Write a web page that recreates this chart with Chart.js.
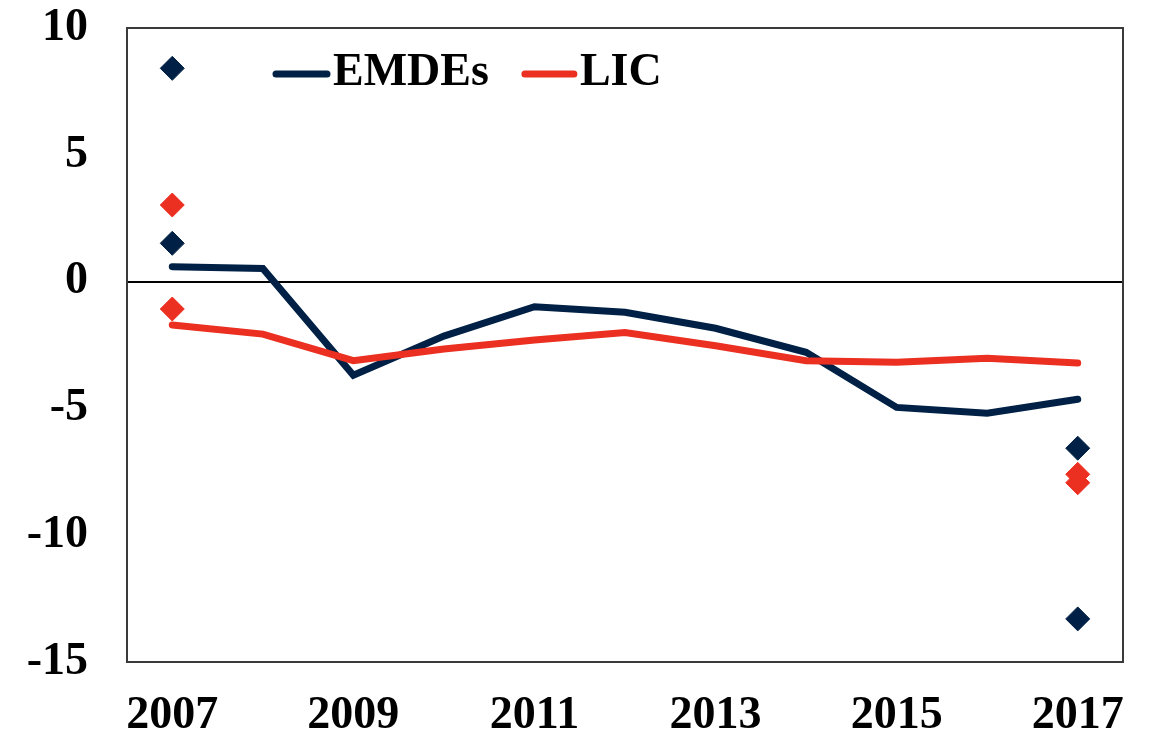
<!DOCTYPE html>
<html>
<head>
<meta charset="utf-8">
<script src="https://cdn.jsdelivr.net/npm/chart.js@4.4.1/dist/chart.umd.min.js"></script>
<style>
  html, body { margin: 0; padding: 0; background: #fff; }
  #wrap { width: 1150px; height: 738px; }
</style>
</head>
<body>
<div id="wrap"><canvas id="chart" width="1150" height="738"></canvas></div>
<script>
// --- data ------------------------------------------------------------------
var years = ["2007", "2008", "2009", "2010", "2011", "2012", "2013", "2014", "2015", "2016", "2017"];
var emdes = [0.59, 0.52, -3.69, -2.15, -0.99, -1.21, -1.84, -2.79, -4.96, -5.19, -4.64];
var lic   = [-1.71, -2.07, -3.12, -2.66, -2.30, -2.01, -2.53, -3.12, -3.18, -3.02, -3.21];
// range markers, only at the ends
var emdesHigh = [8.41, null, null, null, null, null, null, null, null, null, -6.57];
var emdesLow  = [1.51, null, null, null, null, null, null, null, null, null, -13.30];
var licHigh   = [3.02, null, null, null, null, null, null, null, null, null, -7.60];
var licLow    = [-1.08, null, null, null, null, null, null, null, null, null, -7.93];
var yMin = -15, yMax = 10, yStep = 5;

var NAVY = "#002145";
var RED = "#EB2F21";
var FONT = '"Liberation Serif", "Times New Roman", serif';

function diamonds(values, color) {
  return {
    type: "line",
    data: values,
    showLine: false,
    pointStyle: "rectRot",
    pointRadius: 12,
    pointHoverRadius: 12,
    pointBackgroundColor: color,
    pointBorderColor: color,
    pointBorderWidth: 1,
  };
}

function line(values, color) {
  return {
    type: "line",
    data: values,
    borderColor: color,
    borderWidth: 7,
    borderCapStyle: "round",
    borderJoinStyle: "miter",
    pointRadius: 0,
    tension: 0,
    fill: false,
  };
}

// plot frame, drawn under the series
var framePlugin = {
  id: "frame",
  beforeDatasetsDraw: function (chart) {
    var a = chart.chartArea, ctx = chart.ctx;
    ctx.save();
    ctx.strokeStyle = "#3a3a3a";
    ctx.lineWidth = 2;
    ctx.strokeRect(a.left, a.top, a.right - a.left, a.bottom - a.top);
    ctx.restore();
  },
};

// in-plot legend: line swatch + bold label
var legendPlugin = {
  id: "inlineLegend",
  afterDraw: function (chart) {
    var a = chart.chartArea, ctx = chart.ctx;
    var items = [{ text: "EMDEs", color: NAVY, len: 57 }, { text: "LIC", color: RED, len: 55 }];
    var x = a.left + 146, y = a.top + 45;
    ctx.save();
    ctx.font = "bold 46px " + FONT;
    ctx.textBaseline = "middle";
    ctx.lineCap = "round";
    ctx.lineWidth = 7;
    items.forEach(function (it) {
      ctx.strokeStyle = it.color;
      ctx.beginPath();
      ctx.moveTo(x + 3, y + 1);
      ctx.lineTo(x + it.len - 3, y + 1);
      ctx.stroke();
      x += it.len + 3;
      ctx.fillStyle = "#000";
      ctx.fillText(it.text, x, y);
      x += ctx.measureText(it.text).width + 33;
    });
    ctx.restore();
  },
};

new Chart(document.getElementById("chart").getContext("2d"), {
  data: {
    labels: years,
    datasets: [
      diamonds(emdesHigh, NAVY),
      diamonds(emdesLow, NAVY),
      diamonds(licHigh, RED),
      diamonds(licLow, RED),
      line(lic, RED),
      line(emdes, NAVY),
    ],
  },
  options: {
    responsive: false,
    devicePixelRatio: 1,
    animation: false,
    layout: { padding: { top: 28, right: 27, left: 0, bottom: 0 } },
    plugins: { legend: { display: false }, tooltip: { enabled: false } },
    scales: {
      x: {
        offset: true,
        grid: { display: false, drawTicks: false },
        border: { display: false },
        afterFit: function (s) { s.height = 76; s.paddingLeft = 0; s.paddingRight = 0; },
        ticks: {
          autoSkip: false,
          maxRotation: 0,
          padding: 27,
          color: "#000",
          font: { family: FONT, size: 46, weight: "bold" },
          callback: function (v, i) { return i % 2 === 0 ? this.getLabelForValue(v) : ""; },
        },
      },
      y: {
        min: yMin,
        max: yMax,
        afterFit: function (s) { s.width = 127; s.paddingTop = 0; s.paddingBottom = 0; },
        grid: {
          drawTicks: false,
          lineWidth: 2,
          color: function (c) { return c.tick && c.tick.value === 0 ? "#000" : "rgba(0,0,0,0)"; },
        },
        border: { display: false },
        ticks: {
          stepSize: yStep,
          padding: 39,
          color: "#000",
          font: { family: FONT, size: 46, weight: "bold" },
        },
      },
    },
  },
  plugins: [framePlugin, legendPlugin],
});
</script>
</body>
</html>
